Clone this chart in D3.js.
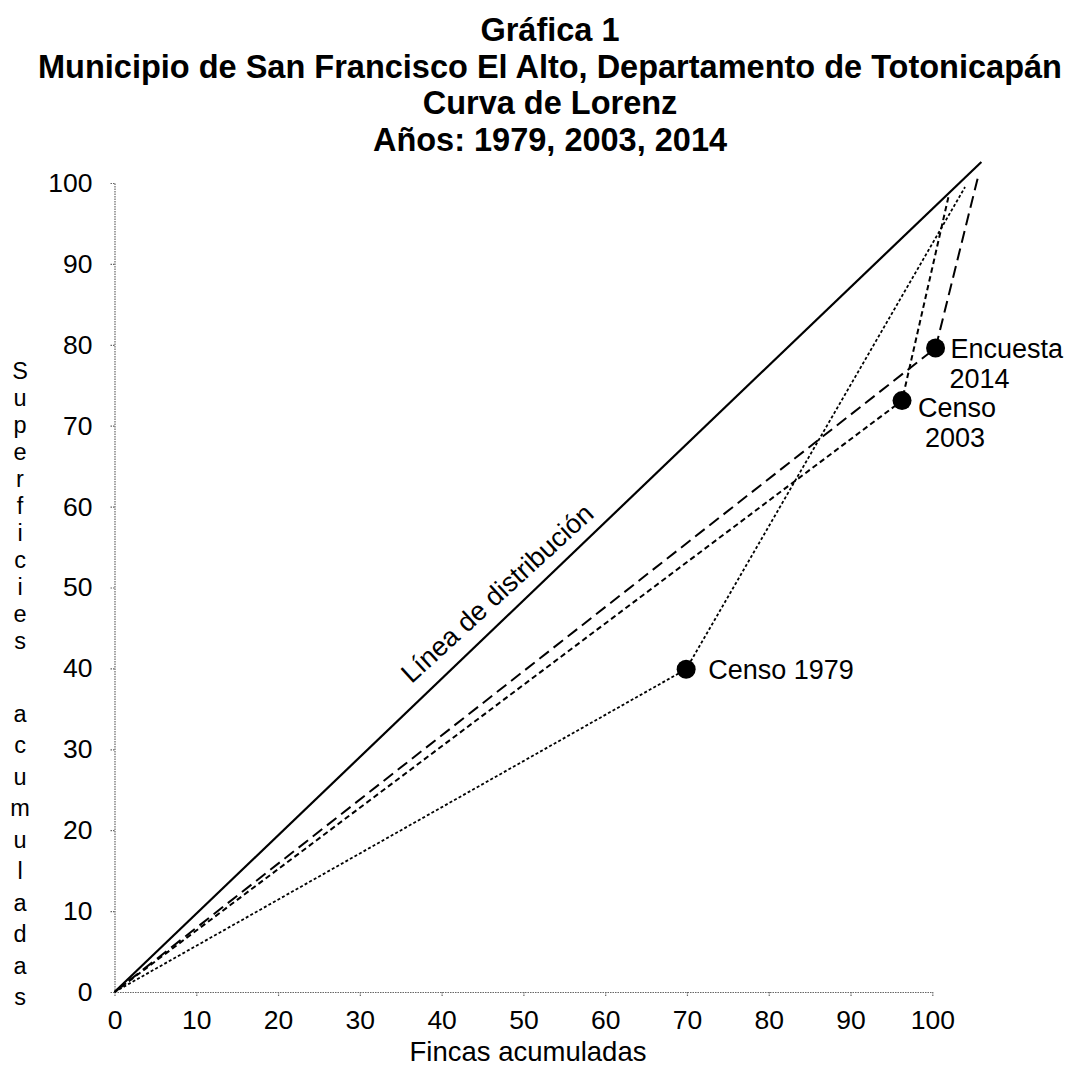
<!DOCTYPE html>
<html>
<head>
<meta charset="utf-8">
<script src="https://cdn.jsdelivr.net/npm/d3@7/dist/d3.min.js"></script>
<style>
  html, body { margin: 0; padding: 0; background: #fff; }
  svg { display: block; }
  text { font-family: "Liberation Sans", Arial, sans-serif; fill: #000; }
</style>
</head>
<body>
<svg id="chart" width="1068" height="1069"></svg>
<script>
// ---- data ----
const titleLines = ["Gráfica 1", "Municipio de San Francisco El Alto, Departamento de Totonicapán", "Curva de Lorenz", "Años: 1979, 2003, 2014"];
const xTicks = [0, 10, 20, 30, 40, 50, 60, 70, 80, 90, 100];
const yTicks = [0, 10, 20, 30, 40, 50, 60, 70, 80, 90, 100];
const xTitle = "Fincas acumuladas";
const yTitleWords = ["Superficies", "acumuladas"];
const equalityLabel = "Línea de distribución";
const equalityLine = [[0, 0], [106.0, 102.6]];
const censo1979 = [[0, 0], [69.9, 39.9], [104.0, 99.5]];
const censo2003 = [[0, 0], [96.3, 73.1], [102.0, 98.4]];
const encuesta2014 = [[0, 0], [100.4, 79.6], [105.7, 101.2]];
const seriesNames = ["Censo 1979", "Censo 2003", "Encuesta 2014"];

(function () {
// ---- layout ----
const svg = d3.select("#chart");
const mLeft = 114.5, mRight = 932.3, mTop = 183, mBottom = 992;
const x = d3.scaleLinear().domain([0, 100]).range([mLeft, mRight]);
const y = d3.scaleLinear().domain([0, 100]).range([mBottom, mTop]);

// Title
const titleY = [41, 78, 114, 151];
svg.append("g").selectAll("text").data(titleLines).join("text")
  .attr("x", 550).attr("y", (d, i) => titleY[i])
  .attr("text-anchor", "middle")
  .attr("font-size", 32.5).attr("font-weight", "bold")
  .text(d => d);

// Axes
const axisColor = "#666";
const gx = svg.append("g").attr("transform", `translate(0,${mBottom})`)
  .call(d3.axisBottom(x).tickValues(xTicks).tickSize(5).tickSizeOuter(0).tickPadding(13).tickFormat(d => d));
const gy = svg.append("g").attr("transform", `translate(${mLeft},0)`)
  .call(d3.axisLeft(y).tickValues(yTicks).tickSize(5).tickSizeOuter(0).tickPadding(17).tickFormat(d => d));
[gx, gy].forEach(g => {
  g.select(".domain").attr("stroke", axisColor).attr("stroke-width", 1.2).attr("stroke-dasharray", "1.5,1");
  g.selectAll(".tick line").attr("stroke", axisColor).attr("stroke-width", 1.2).attr("stroke-dasharray", "1.5,1");
  g.selectAll(".tick text").attr("font-size", 26.5).attr("fill", "#000")
    .attr("font-family", "'Liberation Sans', Arial, sans-serif");
});

// X title
svg.append("text").attr("x", 528).attr("y", 1061).attr("text-anchor", "middle")
  .attr("font-size", 27.5).text(xTitle);

// Y title (stacked letters)
const yLetterStarts = [370, 713];
const yLetterSteps = [27, 31.5];
yTitleWords.forEach((w, wi) => {
  svg.append("g").selectAll("text").data(w.split("")).join("text")
    .attr("x", 20).attr("y", (d, i) => yLetterStarts[wi] + i * yLetterSteps[wi] + 8.5)
    .attr("text-anchor", "middle").attr("font-size", 23.5).text(d => d);
});

// Lines
const line = d3.line().x(d => x(d[0])).y(d => y(d[1]));
svg.append("path").datum(equalityLine).attr("d", line)
  .attr("fill", "none").attr("stroke", "#000").attr("stroke-width", 2.2);

const series = [
  { data: censo1979, dash: "3,2.2", width: 1.8 },
  { data: censo2003, dash: "5.5,3.5", width: 2 },
  { data: encuesta2014, dash: "12,6", width: 2 }
];
series.forEach(s => {
  svg.append("path").datum(s.data).attr("d", line)
    .attr("fill", "none").attr("stroke", "#000")
    .attr("stroke-width", s.width).attr("stroke-dasharray", s.dash);
});
// markers (middle points)
svg.append("g").selectAll("circle").data(series.map(s => s.data[1])).join("circle")
  .attr("cx", d => x(d[0])).attr("cy", d => y(d[1])).attr("r", 9.5).attr("fill", "#000");

// Point labels
const lab = (pt, dx, dy, txt) => svg.append("text")
  .attr("x", x(pt[0]) + dx).attr("y", y(pt[1]) + dy)
  .attr("font-size", 27).text(txt);
lab(censo1979[1], 22, 10, seriesNames[0]);
const [c03a, c03b] = seriesNames[1].split(" ");
lab(censo2003[1], 16, 16, c03a);
lab(censo2003[1], 23, 46, c03b);
const [e14a, e14b] = seriesNames[2].split(" ");
lab(encuesta2014[1], 15, 10, e14a);
lab(encuesta2014[1], 14, 40, e14b);

// Equality line label
const lx = 497, ly = 593;
svg.append("text")
  .attr("transform", `translate(${lx},${ly}) rotate(-42.5)`)
  .attr("text-anchor", "middle").attr("dy", "0.35em")
  .attr("font-size", 27).text(equalityLabel);
})();
</script>
</body>
</html>
